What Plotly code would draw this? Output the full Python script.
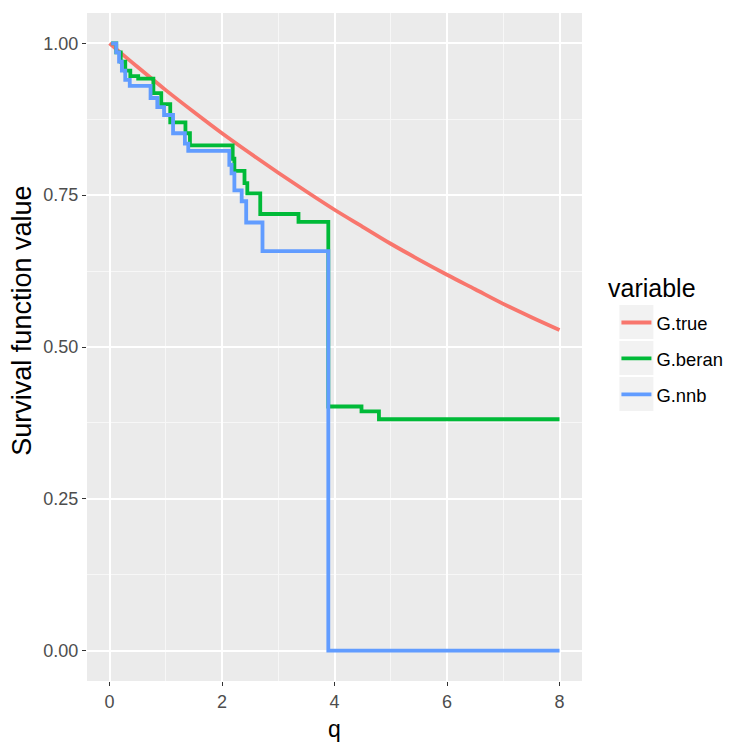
import plotly.graph_objects as go

# ---- data ----
q_true = [0, 0.5, 1, 1.5, 2, 2.5, 3, 3.5, 4, 4.5, 5, 5.5, 6, 6.5, 7, 7.5, 8]
g_true = [1.0, 0.961, 0.923, 0.887, 0.852, 0.819, 0.787, 0.756, 0.726, 0.698,
          0.670, 0.644, 0.619, 0.595, 0.571, 0.549, 0.528]

q_beran = [0.03, 0.12, 0.2, 0.28, 0.37, 0.51, 0.78, 0.92, 1.08, 1.35, 1.43,
           2.19, 2.22, 2.40, 2.45, 2.68, 3.36, 3.89, 4.48, 4.79, 8.0]
g_beran = [1.0, 0.985, 0.97, 0.955, 0.946, 0.942, 0.918, 0.90, 0.87, 0.852, 0.832,
           0.81, 0.79, 0.77, 0.753, 0.719, 0.706, 0.402, 0.394, 0.381, 0.381]

q_nnb = [0.03, 0.12, 0.17, 0.22, 0.28, 0.36, 0.73, 0.85, 0.97, 1.13, 1.34, 1.40,
         2.13, 2.17, 2.22, 2.35, 2.43, 2.72, 3.89, 8.0]
g_nnb = [1.0, 0.985, 0.97, 0.955, 0.94, 0.93, 0.91, 0.895, 0.882, 0.852, 0.835,
         0.823, 0.80, 0.786, 0.758, 0.74, 0.705, 0.658, 0.0, 0.0]

names = ["G.true", "G.beran", "G.nnb"]
colors = ["#F8766D", "#00BA38", "#619CFF"]

fig = go.Figure()
fig.add_trace(go.Scatter(x=q_true, y=g_true, mode="lines", name=names[0],
                         line=dict(color=colors[0], width=3.8, shape="spline"),
                         legendgroup="a"))
fig.add_trace(go.Scatter(x=q_beran, y=g_beran, mode="lines", name=names[1],
                         line=dict(color=colors[1], width=3.8, shape="hv"),
                         legendgroup="b"))
fig.add_trace(go.Scatter(x=q_nnb, y=g_nnb, mode="lines", name=names[2],
                         line=dict(color=colors[2], width=3.8, shape="hv"),
                         legendgroup="c"))

L, R, T, B = 86.5, 582.5, 12.6, 681.4
W = H = 750

def px(x):
    return (x - L) / (R - L)

def py(y):
    return (B - y) / (B - T)

# grey legend key boxes
for top in [305, 341, 377]:
    fig.add_shape(type="rect", xref="paper", yref="paper",
                  x0=px(620), x1=px(654), y0=py(top + 34), y1=py(top),
                  fillcolor="#F2F2F2", line=dict(width=0), layer="below")

axis_common = dict(
    showline=False, zeroline=False,
    gridcolor="white", gridwidth=1.5,
    ticks="outside", ticklen=4, tickwidth=1.1, tickcolor="#333333",
    tickfont=dict(family="Liberation Sans", size=18, color="#4D4D4D"),
    minor=dict(showgrid=True, gridcolor="#F7F7F7", gridwidth=0.8),
)

fig.update_xaxes(range=[-0.4, 8.4], tickvals=[0, 2, 4, 6, 8],
                 ticktext=["0", "2", "4", "6", "8"],
                 title=dict(text="q", font=dict(family="Liberation Sans", size=23, color="black"),
                            standoff=10),
                 **axis_common)
fig.update_xaxes(minor=dict(tickvals=[1, 3, 5, 7], ticks=""))
fig.update_yaxes(range=[-0.05, 1.05], tickvals=[0, 0.25, 0.5, 0.75, 1.0],
                 ticktext=["0.00", "0.25", "0.50", "0.75", "1.00"],
                 **axis_common)
fig.update_yaxes(minor=dict(tickvals=[0.125, 0.375, 0.625, 0.875], ticks=""))

fig.add_annotation(text="Survival function value", xref="paper", yref="paper",
                   x=px(21), y=py(321), textangle=-90, showarrow=False,
                   xanchor="center", yanchor="middle",
                   font=dict(family="Liberation Sans", size=27, color="black"))

fig.add_annotation(text="variable", xref="paper", yref="paper",
                   x=px(607), y=py(288), showarrow=False,
                   xanchor="left", yanchor="middle",
                   font=dict(family="Liberation Sans", size=25, color="black"))

fig.update_layout(
    width=W, height=H,
    margin=dict(l=L, r=W - R, t=T, b=H - B),
    paper_bgcolor="white", plot_bgcolor="#EBEBEB",
    font=dict(family="Liberation Sans"),
    legend=dict(
        x=px(617), y=py(304), xanchor="left", yanchor="top",
        bgcolor="rgba(0,0,0,0)",
        font=dict(size=18.4, color="black"),
        tracegroupgap=9, itemwidth=30,
    ),
)

fig.write_html("out.html")
